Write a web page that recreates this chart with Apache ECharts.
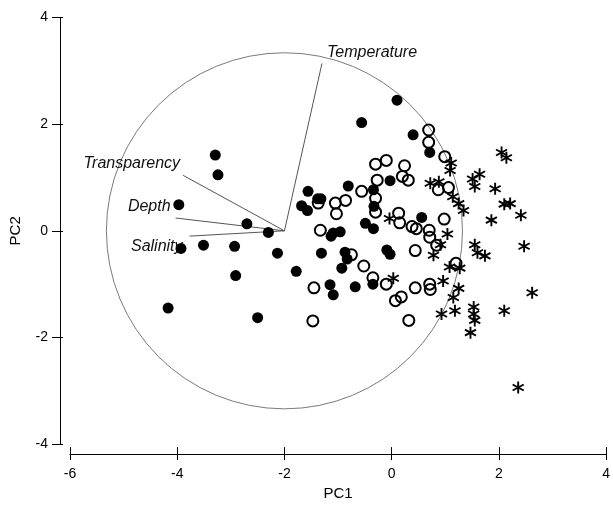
<!DOCTYPE html>
<html>
<head>
<meta charset="utf-8">
<script src="https://cdn.jsdelivr.net/npm/echarts@6/dist/echarts.min.js"></script>
<style>
html, body { margin: 0; padding: 0; background: #fff; }
#main { width: 613px; height: 506px; }
</style>
</head>
<body>
<div id="main"></div>
<script type="text/javascript">
// group 1 - filled circles
var filledPts = [
    [0.10, 2.45], [-0.56, 2.03], [0.40, 1.80], [0.71, 1.47], [-3.29, 1.42], [-3.24, 1.05],
    [-0.03, 0.94], [-0.81, 0.84], [-1.56, 0.74], [-0.34, 0.77], [-1.38, 0.60], [-1.32, 0.60],
    [-1.68, 0.47], [-1.57, 0.38], [-0.33, 0.46], [-3.97, 0.49], [-2.70, 0.13], [-0.49, 0.14],
    [-0.34, 0.04], [0.56, 0.25], [-2.30, -0.03], [-1.09, -0.04], [-1.13, -0.10], [-0.96, -0.02],
    [-3.93, -0.33], [-3.51, -0.27], [-2.93, -0.29], [-2.13, -0.42], [-1.31, -0.42], [-0.87, -0.40],
    [-0.83, -0.53], [-0.09, -0.36], [-0.03, -0.44], [-2.91, -0.84], [-1.78, -0.76], [-0.93, -0.70],
    [-1.15, -1.01], [-1.09, -1.20], [-0.68, -1.05], [-0.35, -1.00], [-4.17, -1.45], [-2.50, -1.63]
];
// group 2 - open circles
var openPts = [
    [0.69, 1.89], [0.69, 1.66], [0.99, 1.39], [-0.30, 1.25], [-0.10, 1.32], [0.24, 1.22],
    [0.20, 1.02], [0.31, 0.95], [-0.27, 0.95], [0.87, 0.77], [1.06, 0.81], [-0.56, 0.74],
    [-0.86, 0.57], [-1.05, 0.52], [-1.03, 0.32], [-1.37, 0.52], [-0.30, 0.61], [-0.30, 0.35],
    [0.13, 0.33], [0.15, 0.15], [0.38, 0.08], [0.46, 0.04], [0.70, 0.01], [0.71, -0.12],
    [0.98, 0.22], [-1.33, 0.01], [0.44, -0.37], [0.84, -0.27], [-0.75, -0.45], [-0.52, -0.66],
    [-0.35, -0.88], [-0.10, -1.00], [0.44, -1.07], [0.71, -1.00], [0.72, -1.10], [1.20, -0.61],
    [-1.45, -1.07], [0.07, -1.31], [0.18, -1.24], [0.32, -1.68], [-1.47, -1.69]
];
// group 3 - asterisks
var starPts = [
    [2.05, 1.47], [2.14, 1.37], [1.11, 1.27], [1.09, 1.13], [1.64, 1.06], [1.51, 0.97],
    [1.55, 0.83], [1.93, 0.79], [0.72, 0.89], [0.88, 0.92], [1.14, 0.64], [1.25, 0.51],
    [1.34, 0.38], [2.10, 0.50], [2.21, 0.51], [2.41, 0.29], [1.86, 0.20], [-0.04, 0.23],
    [1.04, -0.06], [0.91, -0.26], [0.78, -0.46], [1.55, -0.26], [1.60, -0.41], [1.74, -0.47],
    [2.47, -0.29], [1.08, -0.68], [1.27, -0.70], [0.03, -0.89], [0.96, -0.94], [1.25, -1.08],
    [1.15, -1.25], [2.62, -1.16], [0.93, -1.56], [1.18, -1.50], [1.53, -1.43], [1.53, -1.56],
    [1.55, -1.68], [1.47, -1.91], [2.10, -1.50], [2.36, -2.94]
];
// environmental vectors (from origin)
var vectorOrigin = [-2, 0];
var vectorNames = ['Temperature', 'Transparency', 'Depth', 'Salinity'];
var vectorEnds = [[-1.30, 3.14], [-3.89, 1.04], [-4.03, 0.24], [-3.77, -0.10]];
// correlation circle: [cx, cy, r]
var circleData = [[-2, 0, 3.33]];
var xTicks = [-6, 4, 2];   // min, max, step
var yTicks = [-4, 4, 2];

// label placement per vector name
var labelPos = {
    'Temperature': { dx: 5, dy: -11, align: 'left' },
    'Transparency': { dx: -3, dy: -12, align: 'right' },
    'Depth': { dx: -5, dy: -11, align: 'right' },
    'Salinity': { dx: -7, dy: 10, align: 'right' }
};

var starPath = 'path://M8.5,0 L11.5,0 L11.5,20 L8.5,20 Z ' +
    'M0.59,6.3 L2.09,3.7 L19.41,13.7 L17.91,16.3 Z ' +
    'M17.91,3.7 L19.41,6.3 L2.09,16.3 L0.59,13.7 Z';

var FONT = '"Liberation Sans", Arial, sans-serif';
var chart = echarts.init(document.getElementById('main'));

// base axis + a twin that only draws the other half of the crossing ticks
function valAxis(t, extra) {
    return Object.assign({
        type: 'value',
        min: t[0], max: t[1], interval: t[2],
        offset: 10,
        axisLine: { onZero: false, lineStyle: { color: '#000', width: 1 } },
        splitLine: { show: false }
    }, extra);
}

chart.setOption({
    animation: false,
    backgroundColor: '#fff',
    grid: { left: 66.5, right: 4, top: 17.5, bottom: 53.5, containLabel: false },
    xAxis: [
        valAxis(xTicks, {
            position: 'bottom',
            name: 'PC1', nameLocation: 'middle', nameGap: 23,
            nameTextStyle: { color: '#000', fontSize: 15, fontFamily: FONT },
            axisTick: { inside: true, length: 7, lineStyle: { color: '#000' } },
            axisLabel: { color: '#000', fontSize: 14, fontFamily: FONT, margin: 13 }
        }),
        valAxis(xTicks, {
            position: 'bottom',
            axisLine: { show: false, onZero: false },
            axisTick: { inside: false, length: 6, lineStyle: { color: '#000' } },
            axisLabel: { show: false }
        })
    ],
    yAxis: [
        valAxis(yTicks, {
            position: 'left',
            name: 'PC2', nameLocation: 'middle', nameGap: 37,
            nameTextStyle: { color: '#000', fontSize: 15, fontFamily: FONT },
            axisTick: { inside: false, length: 8, lineStyle: { color: '#000' } },
            axisLabel: { color: '#000', fontSize: 14, fontFamily: FONT, margin: 12 }
        }),
        valAxis(yTicks, {
            position: 'left',
            axisLine: { show: false, onZero: false },
            axisTick: { inside: true, length: 3, lineStyle: { color: '#000' } },
            axisLabel: { show: false }
        })
    ],
    series: [
        {
            type: 'custom',
            name: 'circle',
            silent: true,
            clip: false,
            data: circleData,
            encode: { x: 0, y: 1 },
            renderItem: function (params, api) {
                var c = api.coord([api.value(0), api.value(1)]);
                var s = api.size([api.value(2), api.value(2)]);
                return {
                    type: 'circle',
                    shape: { cx: c[0], cy: c[1], r: (s[0] + s[1]) / 2 },
                    style: { fill: 'none', stroke: '#7a7a7a', lineWidth: 1 }
                };
            }
        },
        {
            type: 'custom',
            name: 'vectors',
            silent: true,
            clip: false,
            data: vectorEnds.map(function (e, i) { return [e[0], e[1], vectorNames[i]]; }),
            encode: { x: 0, y: 1 },
            renderItem: function (params, api) {
                var o = api.coord(vectorOrigin);
                var p = api.coord([api.value(0), api.value(1)]);
                var name = vectorNames[params.dataIndex];
                var lp = labelPos[name];
                return {
                    type: 'group',
                    children: [{
                        type: 'line',
                        shape: { x1: o[0], y1: o[1], x2: p[0], y2: p[1] },
                        style: { stroke: '#555', lineWidth: 1 }
                    }, {
                        type: 'text',
                        x: p[0] + lp.dx,
                        y: p[1] + lp.dy,
                        style: {
                            text: name, fill: '#111',
                            fontSize: 16, fontStyle: 'italic', fontFamily: FONT,
                            align: lp.align, verticalAlign: 'middle'
                        }
                    }]
                };
            }
        },
        {
            type: 'scatter',
            name: 'filled',
            data: filledPts,
            symbol: 'circle',
            symbolSize: 11,
            itemStyle: { color: '#000', opacity: 1 }
        },
        {
            type: 'scatter',
            name: 'open',
            data: openPts,
            symbol: 'circle',
            symbolSize: 11,
            itemStyle: { color: 'rgba(255,255,255,0)', borderColor: '#000', borderWidth: 2, opacity: 1 }
        },
        {
            type: 'scatter',
            name: 'star',
            data: starPts,
            symbol: starPath,
            symbolSize: 12,
            itemStyle: { color: '#000', opacity: 1 }
        }
    ]
});
</script>
</body>
</html>
